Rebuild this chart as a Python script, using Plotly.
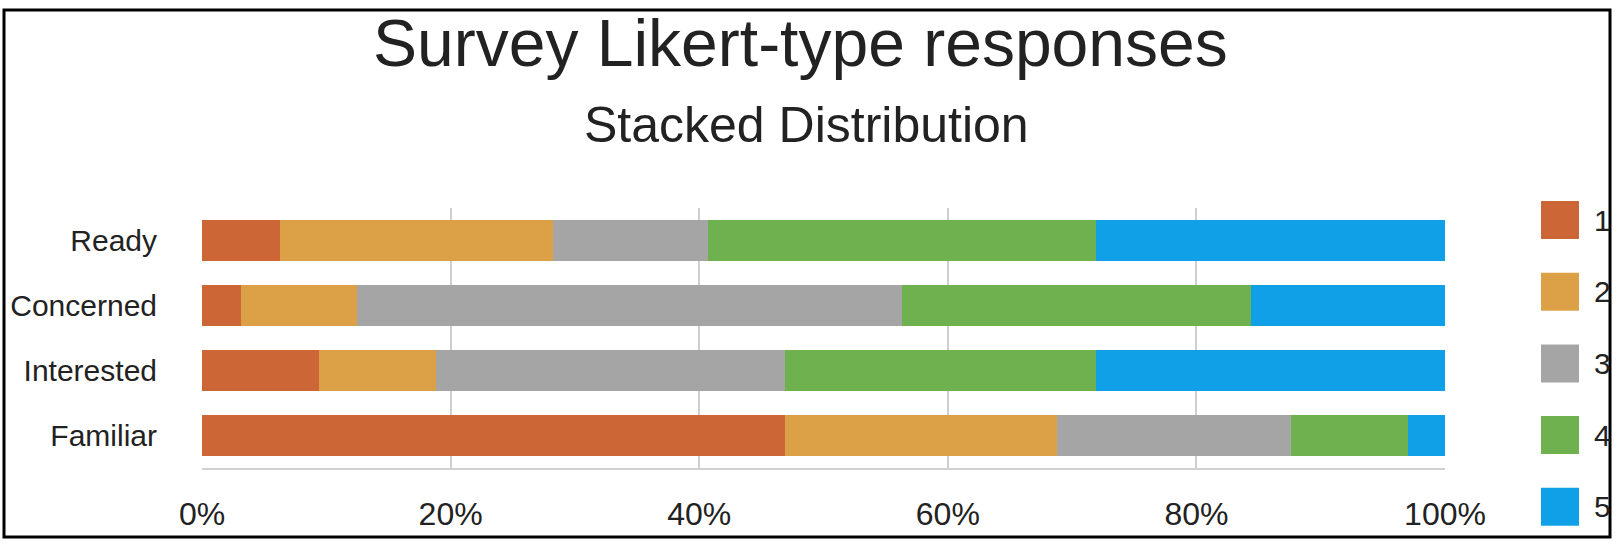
import plotly.graph_objects as go

# categorias (de cima para baixo) e respostas 1..5 em %
categorias = ['Ready', 'Concerned', 'Interested', 'Familiar']
respostas = ['1', '2', '3', '4', '5']

resp_1 = [6.3, 3.1, 9.4, 46.9]
resp_2 = [21.9, 9.4, 9.4, 21.9]
resp_3 = [12.5, 43.8, 28.1, 18.8]
resp_4 = [31.2, 28.1, 25.0, 9.4]
resp_5 = [28.1, 15.6, 28.1, 3.1]

tick_vals = [0, 20, 40, 60, 80, 100]
tick_text = ['0%', '20%', '40%', '60%', '80%', '100%']

cores = ['#CD6636', '#DCA046', '#A5A5A5', '#6FB04F', '#0FA0E8']
valores = [resp_1, resp_2, resp_3, resp_4, resp_5]

fig = go.Figure()

for nome, vals, cor in zip(respostas, valores, cores):
    fig.add_trace(go.Bar(x=vals, y=categorias, name=nome, orientation='h',
                         marker=dict(color=cor, line=dict(width=0)),
                         showlegend=False))

fig.update_layout(
    barmode='stack',
    bargap=0.37,
    width=1618, height=550,
    margin=dict(l=202, r=173, t=208, b=82, autoexpand=False),
    paper_bgcolor='white',
    plot_bgcolor='white',
    font=dict(family='Liberation Sans, Arial', color='#222222'),
)

fig.update_xaxes(range=[0, 100], tickvals=tick_vals, ticktext=tick_text,
                 showgrid=True, gridcolor='#CFCFCF', gridwidth=2,
                 zeroline=False, showline=True, linecolor='#D0D0D0', linewidth=2,
                 ticks='', ticklabelstandoff=17, tickfont=dict(size=32),
                 automargin=False)
fig.update_yaxes(autorange='reversed', showgrid=False, zeroline=False,
                 ticks='', ticklabelstandoff=44, tickfont=dict(size=30),
                 automargin=False)


# converte pixel da imagem de referencia para coordenada paper
def xp(px):
    return (px - 202) / 1243


def yp(py):
    return (468 - py) / 260


# titulo e subtitulo
fig.add_annotation(text='Survey Likert-type responses', xref='paper', yref='paper',
                   x=xp(800), y=yp(43), showarrow=False,
                   xanchor='center', yanchor='middle', font=dict(size=66))
fig.add_annotation(text='Stacked Distribution', xref='paper', yref='paper',
                   x=xp(806), y=yp(125), showarrow=False,
                   xanchor='center', yanchor='middle', font=dict(size=50))

# legenda manual com quadrados grandes
for i, (nome, cor) in enumerate(zip(respostas, cores)):
    yc = 220 + i * 71.7
    fig.add_shape(type='rect', xref='paper', yref='paper',
                  x0=xp(1541), x1=xp(1579),
                  y0=yp(yc - 19), y1=yp(yc + 19),
                  fillcolor=cor, line=dict(width=0))
    fig.add_annotation(text=nome, xref='paper', yref='paper',
                       x=xp(1592), y=yp(yc), showarrow=False,
                       xanchor='left', yanchor='middle', font=dict(size=30))

# moldura preta
fig.add_shape(type='rect', xref='paper', yref='paper',
              x0=xp(4), x1=xp(1610), y0=yp(10), y1=yp(537),
              line=dict(color='black', width=3), fillcolor='rgba(0,0,0,0)')

# tira a margem do body para a figura ficar no canto da janela
fig.write_html("out.html", config={'displayModeBar': False},
               post_script="document.body.style.margin='0px'; document.body.style.overflow='hidden';")
